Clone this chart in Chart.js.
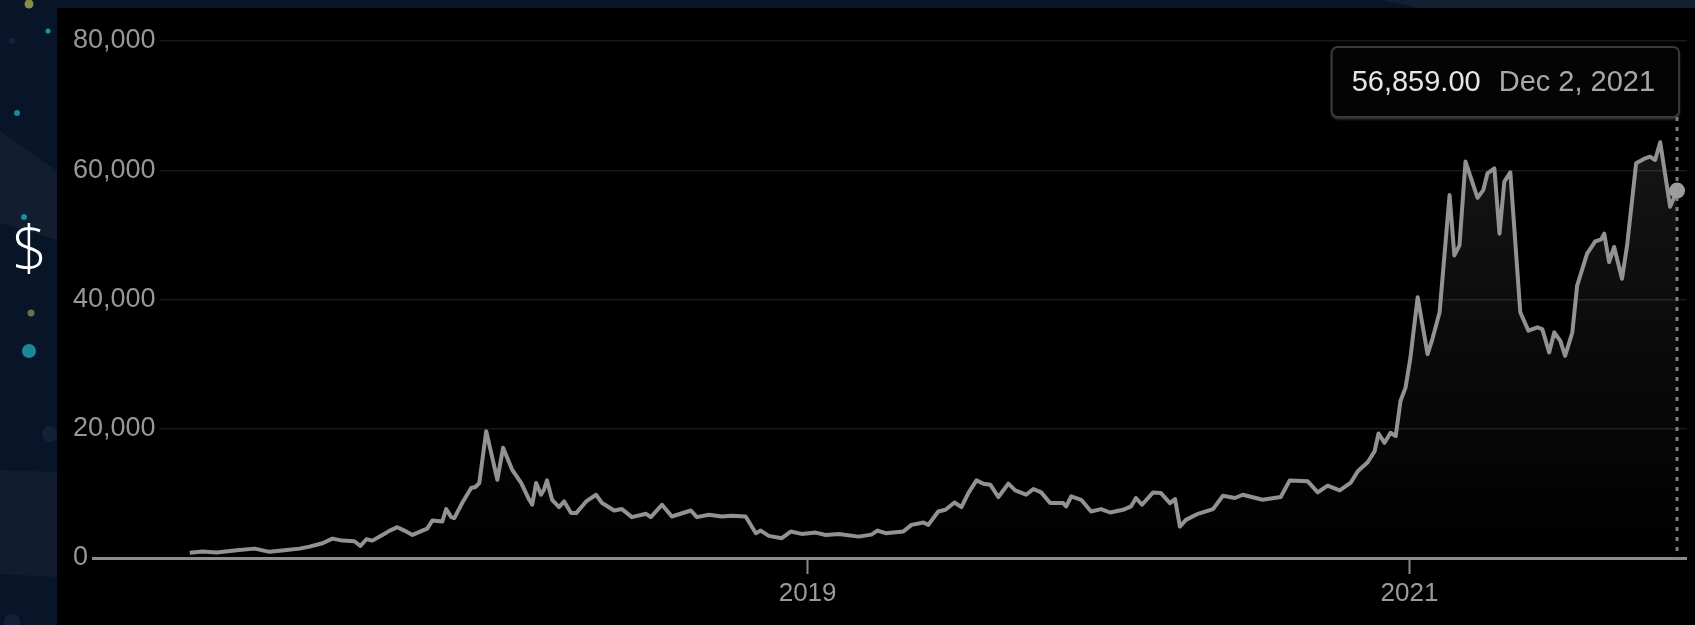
<!DOCTYPE html>
<html>
<head>
<meta charset="utf-8">
<script src="https://cdn.jsdelivr.net/npm/chart.js@4.4.0/dist/chart.umd.min.js"></script>
<style>
  html, body { margin: 0; padding: 0; width: 1695px; height: 625px; overflow: hidden; background: #081427; }
  #deco { position: absolute; left: 0; top: 0; }
  #dollar { position: absolute; left: 12px; top: 216px; color: #fff; font: 300 62px 'Open Sans', sans-serif; line-height: 62px; }
  #panel { position: absolute; left: 57px; top: 8px; width: 1638px; height: 617px; background: #000; }
</style>
</head>
<body>
<svg id="deco" width="1695" height="625">
  <polygon points="0,131 57,171 57,240 0,223" fill="rgba(255,255,255,0.045)" />
  <polygon points="0,470 57,472 57,577 0,574" fill="rgba(255,255,255,0.04)" />
  <polygon points="1380,0 1695,0 1695,8 1420,8" fill="rgba(255,255,255,0.05)" />
  <circle cx="29" cy="4" r="4.5" fill="#8a8c45" />
  <circle cx="48" cy="31" r="2.5" fill="#1896a6" />
  <circle cx="12" cy="41" r="3" fill="#17233a" />
  <circle cx="17" cy="113" r="3" fill="#138c9c" />
  <circle cx="24" cy="217" r="3" fill="#1590a0" />
  <circle cx="31" cy="313" r="3.5" fill="#6c7242" />
  <circle cx="29" cy="351" r="7" fill="#1a8896" />
  <circle cx="50" cy="434" r="8" fill="#142038" />
  <circle cx="12" cy="622" r="8" fill="#142038" />
</svg>
<div id="dollar">$</div>
<div id="panel"><canvas id="priceChart" width="1638" height="617"></canvas></div>
<script>
// x values are fractional years
const years = [
  2016.947, 2016.990, 2017.036, 2017.103, 2017.163, 2017.212, 2017.269, 2017.312, 2017.345, 2017.388,
  2017.421, 2017.454, 2017.494, 2017.514, 2017.534, 2017.554, 2017.587, 2017.610, 2017.637, 2017.660,
  2017.687, 2017.720, 2017.736, 2017.753, 2017.786, 2017.799, 2017.816, 2017.826, 2017.852, 2017.882,
  2017.896, 2017.909, 2017.932, 2017.969, 2017.988, 2018.018, 2018.048, 2018.075, 2018.085, 2018.098,
  2018.114, 2018.124, 2018.134, 2018.151, 2018.174, 2018.191, 2018.214, 2018.231, 2018.264, 2018.297,
  2018.317, 2018.357, 2018.383, 2018.416, 2018.463, 2018.479, 2018.516, 2018.549, 2018.612, 2018.632,
  2018.672, 2018.715, 2018.748, 2018.794, 2018.828, 2018.844, 2018.871, 2018.914, 2018.944, 2018.980,
  2019.027, 2019.060, 2019.103, 2019.169, 2019.212, 2019.232, 2019.259, 2019.318, 2019.345, 2019.385,
  2019.401, 2019.434, 2019.458, 2019.488, 2019.511, 2019.534, 2019.561, 2019.584, 2019.607, 2019.634,
  2019.667, 2019.690, 2019.726, 2019.750, 2019.776, 2019.806, 2019.849, 2019.859, 2019.876, 2019.909,
  2019.942, 2019.975, 2020.005, 2020.048, 2020.075, 2020.091, 2020.111, 2020.148, 2020.174, 2020.204,
  2020.221, 2020.237, 2020.257, 2020.297, 2020.347, 2020.380, 2020.420, 2020.446, 2020.512, 2020.572,
  2020.602, 2020.662, 2020.695, 2020.728, 2020.768, 2020.804, 2020.828, 2020.861, 2020.884, 2020.897,
  2020.917, 2020.937, 2020.954, 2020.970, 2020.987, 2021.003, 2021.027, 2021.060, 2021.076, 2021.100,
  2021.133, 2021.149, 2021.166, 2021.186, 2021.226, 2021.245, 2021.259, 2021.282, 2021.299, 2021.315,
  2021.335, 2021.368, 2021.395, 2021.425, 2021.441, 2021.464, 2021.481, 2021.501, 2021.517, 2021.541,
  2021.557, 2021.590, 2021.617, 2021.637, 2021.647, 2021.663, 2021.680, 2021.706, 2021.723, 2021.753,
  2021.783, 2021.799, 2021.816, 2021.833, 2021.866, 2021.889
];
const prices = [
  800, 1000, 850, 1200, 1450, 950, 1250, 1450, 1760, 2280,
  3000, 2690, 2590, 1860, 2900, 2690, 3570, 4200, 4770, 4240,
  3570, 4240, 4550, 5800, 5640, 7570, 6320, 6170, 8500, 10830,
  10990, 11600, 19630, 12100, 17050, 13680, 11610, 9010, 8240, 11610,
  9790, 10570, 12010, 9010, 7880, 8750, 6950, 6950, 8750, 9790,
  8500, 7350, 7570, 6320, 6840, 6320, 8240, 6420, 7350, 6320,
  6680, 6420, 6530, 6420, 3840, 4240, 3420, 3060, 4090, 3730,
  3930, 3570, 3730, 3310, 3620, 4240, 3840, 4090, 5130, 5490,
  5130, 7200, 7460, 8590, 7880, 10050, 12010, 11500, 11340, 9430,
  11500, 10460, 9790, 10680, 10150, 8500, 8500, 7970, 9530, 9010,
  7200, 7570, 7040, 7460, 8000, 9280, 8240, 10150, 10050, 8500,
  9120, 4860, 5900, 6840, 7570, 9630, 9280, 9790, 9010, 9430,
  12010, 11860, 10150, 11190, 10460, 11610, 13410, 14810, 16520, 19270,
  17820, 19380, 18850, 24290, 26400, 31000, 40360, 31550, 33880, 38030,
  56150, 46820, 48380, 61340, 55740, 56920, 59520, 60300, 50190, 58230,
  59680, 38030, 35170, 35690, 35430, 31810, 34920, 33610, 31280, 34920,
  42160, 47090, 49000, 49310, 50190, 45800, 48130, 43200, 48380, 61070,
  61850, 62110, 61590, 64340, 54340, 56859
];
const yTicks = [0, 20000, 40000, 60000, 80000];
const xTicks = [2019, 2021];
const lastDateLabel = 'Dec 2, 2021';

const FONT = "Arial, 'Liberation Sans', sans-serif";
const last = prices.length - 1;

// dotted cursor line + value box for the last point
const readout = {
  id: 'readout',
  beforeDatasetsDraw(chart) {
    const { ctx, chartArea, scales } = chart;
    const px = scales.x.getPixelForValue(years[last]);
    ctx.save();
    ctx.strokeStyle = '#7e7e7e';
    ctx.lineWidth = 3;
    ctx.setLineDash([4, 6]);
    ctx.beginPath();
    ctx.moveTo(px, 109);
    ctx.lineTo(px, chartArea.bottom);
    ctx.stroke();
    ctx.restore();
  },
  afterDatasetsDraw(chart) {
    const { ctx, scales } = chart;
    const px = scales.x.getPixelForValue(years[last]);
    const valueText = prices[last].toLocaleString('en-US', { minimumFractionDigits: 2, maximumFractionDigits: 2 });
    ctx.save();
    ctx.font = '29px ' + FONT;
    const w1 = ctx.measureText(valueText).width;
    const w2 = ctx.measureText(lastDateLabel).width;
    const boxW = 20 + w1 + 18 + w2 + 24;
    const boxH = 70;
    const left = px + 2 - boxW;
    const top = 39;
    ctx.shadowColor = 'rgba(120,120,120,0.6)';
    ctx.shadowOffsetY = 2;
    ctx.shadowBlur = 3;
    ctx.beginPath();
    ctx.roundRect(left, top, boxW, boxH, 6);
    ctx.fillStyle = '#040404';
    ctx.fill();
    ctx.shadowColor = 'transparent';
    ctx.strokeStyle = '#3a3a3a';
    ctx.lineWidth = 2;
    ctx.stroke();
    ctx.textBaseline = 'middle';
    ctx.fillStyle = '#e6e6e6';
    ctx.fillText(valueText, left + 20, top + boxH / 2 + 1);
    ctx.fillStyle = '#a8a8a8';
    ctx.fillText(lastDateLabel, left + 20 + w1 + 18, top + boxH / 2 + 1);
    ctx.restore();
  }
};

const ctx = document.getElementById('priceChart').getContext('2d');

new Chart(ctx, {
  type: 'line',
  data: {
    datasets: [{
      data: years.map((t, i) => ({ x: t, y: prices[i] })),
      borderColor: '#929292',
      borderWidth: 4,
      borderJoinStyle: 'round',
      tension: 0,
      fill: 'origin',
      backgroundColor: (c) => {
        const area = c.chart.chartArea;
        if (!area) return 'transparent';
        const g = c.chart.ctx.createLinearGradient(0, area.top, 0, area.bottom);
        g.addColorStop(0, 'rgba(255,255,255,0.10)');
        g.addColorStop(1, 'rgba(255,255,255,0)');
        return g;
      },
      pointRadius: (c) => c.dataIndex === last ? 8 : 0,
      pointBackgroundColor: '#9c9c9c',
      pointBorderWidth: 0
    }]
  },
  options: {
    responsive: false,
    animation: false,
    layout: { padding: { top: 33, right: 5, left: 0, bottom: 0 } },
    plugins: {
      legend: { display: false },
      tooltip: { enabled: false }
    },
    scales: {
      x: {
        type: 'linear',
        min: 2016.559,
        max: 2021.922,
        afterBuildTicks: (s) => { s.ticks = xTicks.map(v => ({ value: v })); },
        afterFit: (s) => { s.height = 67; },
        ticks: {
          color: '#9a9a9a',
          font: { size: 26, family: FONT },
          padding: 4,
          maxRotation: 0,
          autoSkip: false,
          callback: (v) => String(v)
        },
        grid: { drawOnChartArea: false, drawTicks: true, tickLength: 16, tickColor: '#8a8a8a', tickWidth: 2 },
        border: { display: false }
      },
      y: {
        min: 0,
        max: 80000,
        afterBuildTicks: (s) => { s.ticks = yTicks.map(v => ({ value: v })); },
        afterFit: (s) => { s.width = 16; },
        ticks: {
          mirror: true,
          padding: 0,
          color: '#979797',
          font: { size: 27, family: FONT },
          showLabelBackdrop: true,
          backdropColor: '#000',
          backdropPadding: { left: 0, right: 4, top: 0, bottom: 0 },
          callback: (v) => v.toLocaleString('en-US')
        },
        grid: {
          drawTicks: false,
          color: (c) => c.tick && c.tick.value === 0 ? '#8c8c8c' : '#191919',
          lineWidth: (c) => c.tick && c.tick.value === 0 ? 3 : 1.5
        },
        border: { display: false }
      }
    }
  },
  plugins: [readout]
});
</script>
</body>
</html>
